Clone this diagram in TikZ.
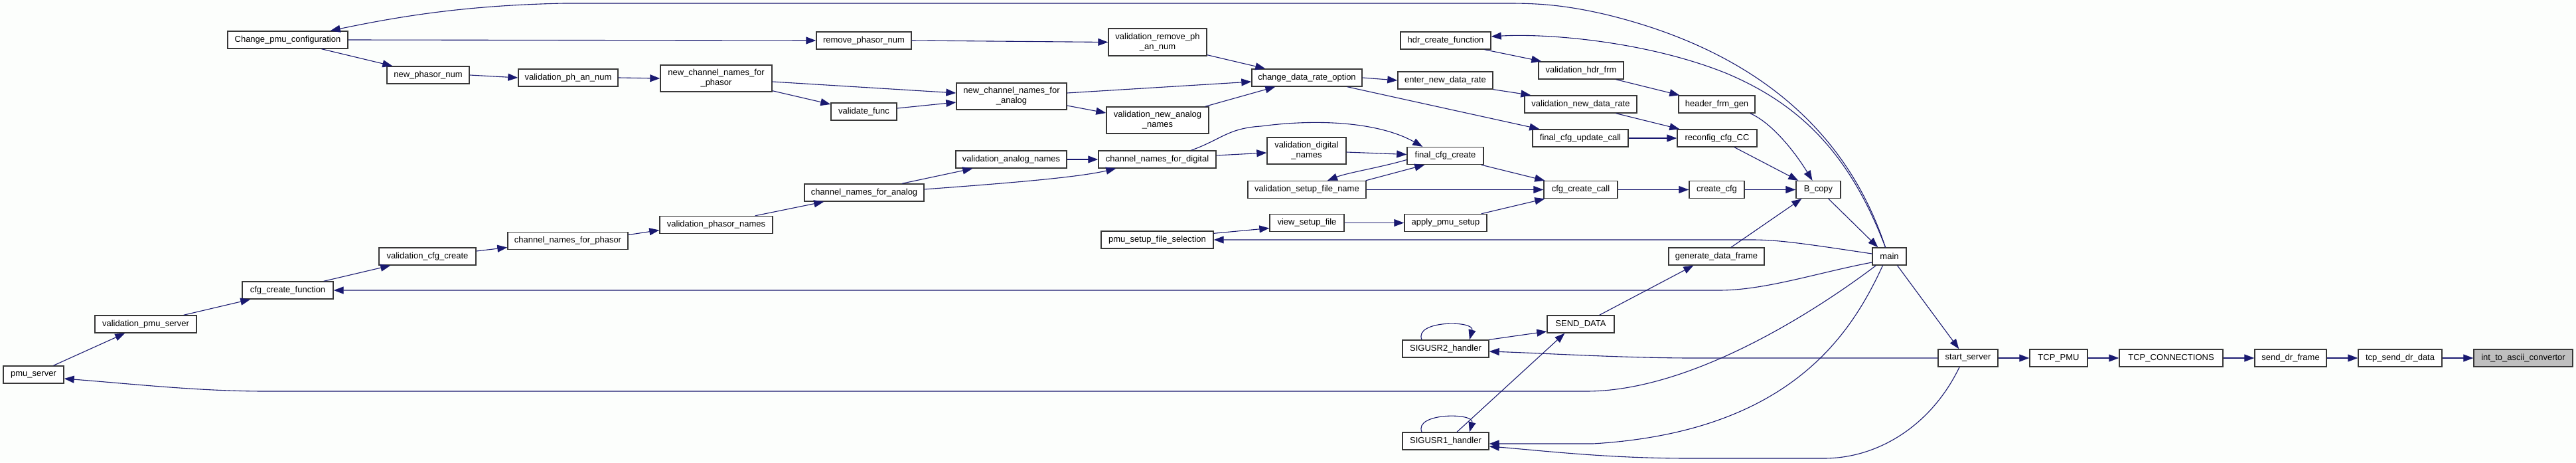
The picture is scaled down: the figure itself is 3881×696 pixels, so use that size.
\documentclass[tikz,border=0pt]{standalone}
\usepackage{fontspec}
\setmainfont{Liberation Sans}
\usetikzlibrary{arrows.meta,calc}
\definecolor{edgec}{RGB}{25,25,112}
\definecolor{bgc}{RGB}{252,254,252}
\definecolor{focusc}{RGB}{191,191,191}
\definecolor{borderc}{RGB}{55,55,55}
\tikzset{
  fn/.style={draw=borderc, line width=1.4pt, fill=white, rectangle, minimum height=26pt, inner sep=0pt, font=\fontsize{13}{15}\selectfont, align=center},
  fntwo/.style={fn, minimum height=40pt},
  edg/.style={draw=edgec, line width=1.1pt, -{Triangle[length=15pt,width=11pt]}},
}
\begin{document}
\begin{tikzpicture}[x=1pt,y=-1pt]
\fill[bgc] (0,0) rectangle (3881,696);
\useasboundingbox (0,0) rectangle (3881,696);

% nodes
\node[fn, minimum width=181pt] (chg) at (433.5,60) {Change\_pmu\_configuration};
\node[fn, minimum width=124pt] (npn) at (645,113) {new\_phasor\_num};
\node[fn, minimum width=150pt] (vpan) at (856,117) {validation\_ph\_an\_num};
\node[fntwo, minimum width=168pt] (ncnp) at (1079,118) {new\_channel\_names\_for\\\_phasor};
\node[fn, minimum width=143pt] (rpn) at (1301.5,61) {remove\_phasor\_num};
\node[fn, minimum width=99pt] (vf) at (1301.5,168) {validate\_func};
\node[fntwo, minimum width=166pt] (ncna) at (1524,145) {new\_channel\_names\_for\\\_analog};
\node[fn, minimum width=167pt] (van) at (1523.5,240) {validation\_analog\_names};
\node[fn, minimum width=180pt] (cnfa) at (1302,290) {channel\_names\_for\_analog};
\node[fn, minimum width=170pt] (vpn) at (1079,338.5) {validation\_phasor\_names};
\node[fn, minimum width=181pt] (cnfp) at (855.5,362.5) {channel\_names\_for\_phasor};
\node[fn, minimum width=146pt] (vcc) at (644,386) {validation\_cfg\_create};
\node[fn, minimum width=137pt] (cfgf) at (433.5,437) {cfg\_create\_function};
\node[fn, minimum width=153pt] (vps) at (219.5,488) {validation\_pmu\_server};
\node[fn, minimum width=91pt] (pmus) at (50.5,564) {pmu\_server};
\node[fntwo, minimum width=148pt, minimum height=41pt] (vrpan) at (1744,63.5) {validation\_remove\_ph\\\_an\_num};
\node[fn, minimum width=166pt] (cdro) at (1969,117) {change\_data\_rate\_option};
\node[fntwo, minimum width=154pt] (vnan) at (1744,181) {validation\_new\_analog\\\_names};
\node[fn, minimum width=177pt] (cnfd) at (1743.5,240) {channel\_names\_for\_digital};
\node[fntwo, minimum width=119pt] (vdn) at (1968.5,227) {validation\_digital\\\_names};
\node[fn, minimum width=178pt] (vsfn) at (1969,285.5) {validation\_setup\_file\_name};
\node[fn, minimum width=112pt] (vsf) at (1969,335.5) {view\_setup\_file};
\node[fn, minimum width=169pt] (psfs) at (1743.5,361) {pmu\_setup\_file\_selection};
\node[fn, minimum width=136pt] (hdr) at (2178,61) {hdr\_create\_function};
\node[fn, minimum width=143pt] (ender) at (2177.5,121) {enter\_new\_data\_rate};
\node[fn, minimum width=115pt] (fcc) at (2177.5,234.5) {final\_cfg\_create};
\node[fn, minimum width=124pt] (aps) at (2178,335.5) {apply\_pmu\_setup};
\node[fn, minimum width=128pt] (vhf) at (2382,106) {validation\_hdr\_frm};
\node[fn, minimum width=169pt] (vndr) at (2381.5,157) {validation\_new\_data\_rate};
\node[fn, minimum width=144pt] (fcuc) at (2381,208) {final\_cfg\_update\_call};
\node[fn, minimum width=111pt] (ccc) at (2381.5,285.5) {cfg\_create\_call};
\node[fn, minimum width=115pt] (hfg) at (2586.5,157) {header\_frm\_gen};
\node[fn, minimum width=120pt] (rcc) at (2587,208) {reconfig\_cfg\_CC};
\node[fn, minimum width=83pt] (ccfg) at (2586.5,285.5) {create\_cfg};
\node[fn, minimum width=67pt] (bcopy) at (2739.5,285.5) {B\_copy};
\node[fn, minimum width=144pt] (gdf) at (2586,386) {generate\_data\_frame};
\node[fn, minimum width=51pt] (main) at (2846.5,386) {main};
\node[fn, minimum width=101pt] (sd) at (2381.5,488) {SEND\_DATA};
\node[fn, minimum width=130pt] (sig2) at (2178,525) {SIGUSR2\_handler};
\node[fn, minimum width=130pt] (sig1) at (2178,664) {SIGUSR1\_handler};
\node[fn, minimum width=90pt] (ss) at (2965,539) {start\_server};
\node[fn, minimum width=87pt] (tcppmu) at (3101.5,539) {TCP\_PMU};
\node[fn, minimum width=156pt] (tcpc) at (3271,539) {TCP\_CONNECTIONS};
\node[fn, minimum width=108pt] (sdf) at (3451,539) {send\_dr\_frame};
\node[fn, minimum width=126pt] (tsdd) at (3616,539) {tcp\_send\_dr\_data};
\node[fn, minimum width=149pt, fill=focusc] (itac) at (3801.5,539) {int\_to\_ascii\_convertor};

% edges, left part
\draw[edg] (chg.east) -- (rpn.west);
\draw[edg] ($(chg.south)+(51,0)$) -- ($(npn.north west)+(9,0)$);
\draw[edg] (npn.east) -- (vpan.west);
\draw[edg] (vpan.east) -- (ncnp.west);
\draw[edg] ($(ncnp.east)+(0,5)$) -- ($(ncna.west)+(0,-5)$);
\draw[edg] ($(ncnp.south east)+(0,-2)$) -- ($(vf.west)+(0,-11)$);
\draw[edg] ($(vf.east)+(0,-5)$) -- ($(ncna.west)+(0,9)$);
\draw[edg] (rpn.east) -- (vrpan.west);
\draw[edg] ($(vrpan.south east)+(0,-2)$) -- ($(cdro.north west)+(21,0)$);
\draw[edg] ($(ncna.east)+(0,-5)$) -- ($(cdro.west)+(0,6)$);
\draw[edg] ($(ncna.east)+(0,14)$) -- ($(vnan.west)+(0,-11)$);
\draw[edg] ($(vnan.north east)+(-6,0)$) -- ($(cdro.south west)+(36,0)$);
\draw[edg] (cdro.east) -- (ender.west);
\draw[edg] ($(cdro.south east)+(-23,0)$) -- ($(fcuc.north west)+(11,0)$);
\draw[edg] (ender.south east) -- ($(vndr.north west)+(10,0)$);
\draw[edg] ($(hdr.south east)+(-10,0)$) -- ($(vhf.north west)+(5,0)$);
\draw[edg] ($(vhf.south east)+(-12,0)$) -- ($(hfg.north west)+(2,0)$);
\draw[edg] ($(vndr.south east)+(-32,0)$) -- ($(rcc.north west)+(4,0)$);
\draw[edg] (fcuc.east) -- (rcc.west);
\draw[edg] ($(hfg.south east)+(-8,0)$) .. controls (2670,185) and (2705,230) .. ($(bcopy.north)+(-9,0)$);
\draw[edg] ($(rcc.south)+(26,0)$) -- ($(bcopy.north west)+(4,0)$);
\draw[edg] (ccfg.east) -- (bcopy.west);
\draw[edg] (ccc.east) -- (ccfg.west);
\draw[edg] ($(gdf.north)+(22,0)$) -- ($(bcopy.south west)+(9,0)$);
\draw[edg] ($(bcopy.south east)+(-19,0)$) -- ($(main.north west)+(9,0)$);
\draw[edg] ($(main.south)+(12,0)$) -- ($(ss.north west)+(32,0)$);
\draw[edg] (ss.east) -- (tcppmu.west);
\draw[edg] (tcppmu.east) -- (tcpc.west);
\draw[edg] (tcpc.east) -- (sdf.west);
\draw[edg] (sdf.east) -- (tsdd.west);
\draw[edg] (tsdd.east) -- (itac.west);

% channel names
\draw[edg] ($(cnfa.north)+(57,0)$) -- ($(van.south west)+(26,0)$);
\draw[edg] ($(cnfa.east)+(0,-5)$) .. controls (1500,277) and (1620,268) .. ($(cnfd.south west)+(27,0)$);
\draw[edg] (van.east) -- (cnfd.west);
\draw[edg] ($(vpn.north east)+(-27,0)$) -- ($(cnfa.south west)+(30,0)$);
\draw[edg] ($(cnfp.east)+(0,-9)$) -- ($(vpn.west)+(0,8)$);
\draw[edg] ($(vcc.east)+(0,-8)$) -- ($(cnfp.west)+(0,10)$);
\draw[edg] ($(cfgf.north east)+(-15,0)$) -- ($(vcc.south west)+(18,0)$);
\draw[edg] ($(vps.north east)+(-20,0)$) -- ($(cfgf.south west)+(13,0)$);
\draw[edg] ($(pmus.north)+(30,0)$) -- ($(vps.south west)+(46,0)$);

% digital / setup
\draw[edg] ($(cnfd.north)+(51,0)$) .. controls (1840,210) and (1850,193) .. (1900,190) .. controls (1990,178) and (2080,185) .. ($(fcc.north west)+(24,0)$);
\draw[edg] ($(cnfd.east)+(0,-6)$) -- ($(vdn.west)+(0,3)$);
\draw[edg] ($(vdn.east)+(0,2)$) -- ($(fcc.west)+(0,-2)$);
\draw[edg] ($(fcc.west)+(0,6)$) .. controls (2080,252) and (2030,260) .. ($(vsfn.north)+(31,0)$);
\draw[edg] ($(vsfn.north east)+(-1,0)$) -- ($(fcc.south west)+(27,0)$);
\draw[edg] ($(fcc.south east)+(-4,0)$) -- ($(ccc.north west)+(2,0)$);
\draw[edg] (vsfn.east) -- (ccc.west);
\draw[edg] ($(aps.north east)+(-9,0)$) -- ($(ccc.south west)+(2,0)$);
\draw[edg] (vsf.east) -- (aps.west);
\draw[edg] ($(psfs.north east)+(0,4)$) -- ($(vsf.west)+(0,8)$);

% long edges from main
\draw[edg] ($(main.north)+(-6,0)$) .. controls (2800,250) and (2700,90) .. (2420,22) .. controls (2360,8) and (2320,5) .. (2274,5) -- (850,5) .. controls (700,8) and (600,25) .. ($(chg.north east)+(-27,0)$);
\draw[edg] ($(main.north)+(-6,0)$) .. controls (2790,240) and (2720,160) .. (2600,110) .. controls (2480,62) and (2330,50) .. ($(hdr.east)+(0,-6)$);
\draw[edg] ($(main.west)+(0,9)$) .. controls (2740,410) and (2660,437) .. (2590,437) -- (cfgf.east);
\draw[edg] ($(main.west)+(0,-4)$) .. controls (2720,367) and (2680,361) .. (2640,361) -- (psfs.east);
\draw[edg] ($(main.south west)+(6,0)$) .. controls (2760,450) and (2560,589) .. (2390,589) -- (400,589) .. controls (300,589) and (200,578) .. ($(pmus.east)+(0,6)$);
\draw[edg] ($(main.south)+(-10,0)$) .. controls (2790,500) and (2700,650) .. (2400,668) -- ($(sig1.east)+(0,4)$);
\draw[edg] ($(ss.south)+(-13,0)$) .. controls (2910,640) and (2830,690) .. (2748,690) -- (2544,690) .. controls (2420,690) and (2320,678) .. ($(sig1.east)+(0,8)$);
\draw[edg] (ss.west) -- (2550,539) .. controls (2450,539) and (2330,532) .. ($(sig2.east)+(0,4)$);

% signals
\draw[edg] (sig2.north east) -- ($(sd.west)+(0,11)$);
\draw[edg] ($(sig1.north)+(17,0)$) -- ($(sd.south west)+(27,0)$);
\draw[edg] ($(sd.north east)+(-23,0)$) -- ($(gdf.south west)+(38,0)$);
\draw[edg] ($(sig2.north)+(-36,0)$) .. controls (2130,482) and (2222,482) .. ($(sig2.north)+(36,0)$);
\draw[edg] ($(sig1.north)+(-36,0)$) .. controls (2130,621) and (2222,621) .. ($(sig1.north)+(36,0)$);
\end{tikzpicture}
\end{document}
